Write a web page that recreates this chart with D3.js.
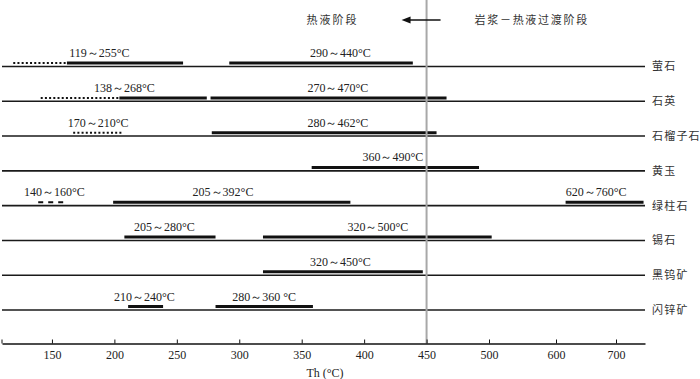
<!DOCTYPE html>
<html><head><meta charset="utf-8">
<script src="https://cdn.jsdelivr.net/npm/d3@7/dist/d3.min.js"></script>
<style>
body{margin:0;background:#fff;}
svg{display:block;}
.num{font-family:"Liberation Serif","DejaVu Serif",serif;font-size:12px;fill:#222;}
.cjk{font-family:"Noto Sans CJK SC",sans-serif;fill:#333;}
</style></head>
<body>
<script>
// ---------- data ----------
const minerals = ["萤石","石英","石榴子石","黄玉","绿柱石","锡石","黑钨矿","闪锌矿"];
const segMineral = ["萤石","萤石","萤石","石英","石英","石英","石榴子石","石榴子石","黄玉","绿柱石","绿柱石","绿柱石","锡石","锡石","黑钨矿","闪锌矿","闪锌矿"];
const segFrom    = [119,162,292, 141,204,277, 167,278, 358, 139,199,616, 208,319, 319, 211,281];
const segTo      = [162,255,439, 204,274,466, 206,458, 492, 159,389,757, 281,504, 447, 239,359];
const segStyle   = ["dot","solid","solid","dot","solid","solid","dot","solid","solid","dash","solid","solid","solid","solid","solid","solid","solid"];
const labelMineral = ["萤石","萤石","石英","石英","石榴子石","石榴子石","黄玉","绿柱石","绿柱石","绿柱石","锡石","锡石","黑钨矿","闪锌矿","闪锌矿"];
const labelText = ["119～255°C","290～440°C","138～268°C","270～470°C","170～210°C","280～462°C","360～490°C","140～160°C","205～392°C","620～760°C","205～280°C","320～500°C","320～450°C","210～240°C","280～360 °C"];
const labelAt   = [188,381,208,379,187,379,423,152,287,667,240,411,381,224,320];
const tickValues = [150,200,250,300,350,400,450,500,600,700];
const boundaryTemp = 450;
const stageLeft = "热液阶段";
const stageRight = "岩浆－热液过渡阶段";
const axisTitle = "Th (°C)";

// ---------- chart ----------
const W = 700, H = 379;
const svg = d3.select("body").append("svg").attr("width", W).attr("height", H);

const x = d3.scaleLinear()
  .domain([110, 500, 600, 700, 760])
  .range([2, 489, 556, 616, 645]);
const y = d3.scalePoint().domain(minerals).range([66.5, 310]);
const axisY = 343.5;

// baselines
svg.append("g").selectAll("line").data(minerals).join("line")
  .attr("x1", x(110)).attr("x2", x(760))
  .attr("y1", d => y(d)).attr("y2", d => y(d))
  .attr("stroke", "#1a1a1a").attr("stroke-width", 1.6);

// segments
const segs = segFrom.map((f, i) => ({m: segMineral[i], f, t: segTo[i], s: segStyle[i]}));
svg.append("g").selectAll("line").data(segs).join("line")
  .attr("x1", d => x(d.f)).attr("x2", d => x(d.t))
  .attr("y1", d => y(d.m) - 3.4).attr("y2", d => y(d.m) - 3.4)
  .attr("stroke", "#111")
  .attr("stroke-width", d => d.s === "solid" ? 3 : 2)
  .attr("stroke-dasharray", d => d.s === "dot" ? "2,2.2" : d.s === "dash" ? "5,5" : null);

// range labels
svg.append("g").selectAll("text").data(labelText).join("text")
  .attr("class", "num")
  .attr("x", (d, i) => x(labelAt[i]))
  .attr("y", (d, i) => y(labelMineral[i]) - 9.5)
  .attr("text-anchor", "middle")
  .text(d => d);

// mineral names
svg.append("g").selectAll("text").data(minerals).join("text")
  .attr("class", "cjk")
  .attr("x", x(760) + 7).attr("y", d => y(d))
  .attr("dy", "0.36em")
  .style("font-size", "11px").style("letter-spacing", "1.2px")
  .text(d => d);

// boundary line
svg.append("line")
  .attr("x1", x(boundaryTemp)).attr("x2", x(boundaryTemp))
  .attr("y1", 0).attr("y2", axisY)
  .attr("stroke", "#a8a8a8").attr("stroke-width", 2);

// stage headers
const bx = x(boundaryTemp);
svg.append("text").attr("class", "cjk")
  .attr("x", bx - 94).attr("y", 20).attr("dy", "0.36em")
  .attr("text-anchor", "middle")
  .style("font-size", "11px").style("letter-spacing", "2px")
  .text(stageLeft);
svg.append("text").attr("class", "cjk")
  .attr("x", bx + 48).attr("y", 20).attr("dy", "0.36em")
  .style("font-size", "11px").style("letter-spacing", "1.7px")
  .text(stageRight);
svg.append("line")
  .attr("x1", bx + 14).attr("x2", bx - 19)
  .attr("y1", 20).attr("y2", 20)
  .attr("stroke", "#111").attr("stroke-width", 1.5);
svg.append("path")
  .attr("d", `M${bx - 25},20 L${bx - 16},16.5 L${bx - 16},23.5 Z`)
  .attr("fill", "#111");

// axis
const axis = d3.axisBottom(x).tickValues(tickValues).tickSize(-4).tickSizeOuter(0).tickPadding(7);
const ag = svg.append("g").attr("transform", `translate(0,${axisY})`).call(axis);
ag.select(".domain").attr("stroke", "#111").attr("stroke-width", 1.5);
ag.selectAll(".tick line").attr("stroke", "#111");
ag.selectAll(".tick text").attr("class", "num").attr("fill", "#222")
  .style("font-family", "'Liberation Serif',serif").style("font-size", "12px");
ag.append("line").attr("x1", x(110)).attr("x2", x(110)).attr("y1", 0).attr("y2", -4).attr("stroke", "#111");

svg.append("text").attr("class", "num")
  .attr("x", 325).attr("y", 377).attr("text-anchor", "middle")
  .text(axisTitle);
</script>
</body></html>
